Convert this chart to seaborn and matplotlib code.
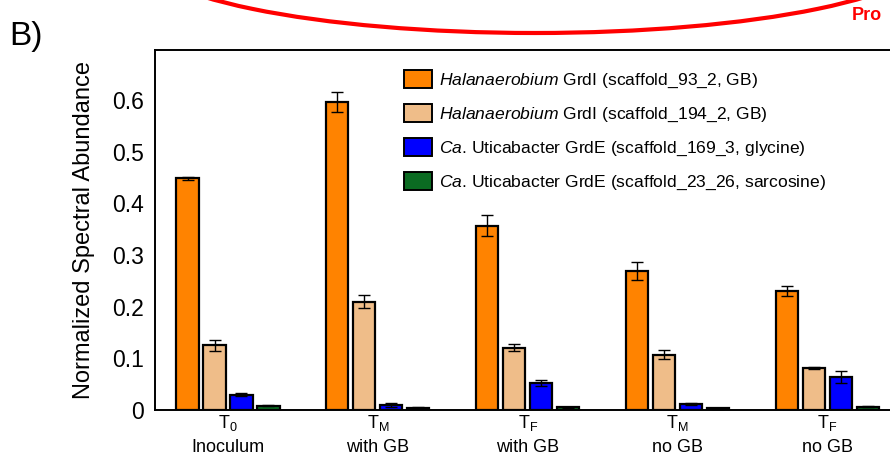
import numpy as np
import pandas as pd
import matplotlib
matplotlib.use("Agg")
import matplotlib.pyplot as plt
from matplotlib.patches import Ellipse, Patch
import seaborn as sns

# Sample conditions (x axis)
conditions = [r"$\mathregular{T_0}$" + "\nInoculum",
              r"$\mathregular{T_M}$" + "\nwith GB",
              r"$\mathregular{T_F}$" + "\nwith GB",
              r"$\mathregular{T_M}$" + "\nno GB",
              r"$\mathregular{T_F}$" + "\nno GB"]

# Proteins (hue)
proteins = [r"$\it{Halanaerobium}$ GrdI (scaffold_93_2, GB)",
            r"$\it{Halanaerobium}$ GrdI (scaffold_194_2, GB)",
            r"$\it{Ca}$. Uticabacter GrdE (scaffold_169_3, glycine)",
            r"$\it{Ca}$. Uticabacter GrdE (scaffold_23_26, sarcosine)"]

# Normalized spectral abundance per protein, one value per condition
grdI_93 = [0.449, 0.596, 0.357, 0.269, 0.230]
grdI_194 = [0.125, 0.210, 0.121, 0.107, 0.081]
grdE_169 = [0.030, 0.010, 0.053, 0.012, 0.064]
grdE_23 = [0.008, 0.004, 0.005, 0.003, 0.006]

# Error (standard error) for each bar
err_93 = [0.003, 0.020, 0.020, 0.017, 0.010]
err_194 = [0.010, 0.012, 0.006, 0.009, 0.002]
err_169 = [0.003, 0.004, 0.006, 0.002, 0.012]
err_23 = [0.001, 0.001, 0.001, 0.001, 0.001]

y_ticks = [0, 0.1, 0.2, 0.3, 0.4, 0.5, 0.6]
y_tick_labels = ["0", "0.1", "0.2", "0.3", "0.4", "0.5", "0.6"]

colors = ["#FF8300", "#EFBD89", "#0000FF", "#0B6B22"]

values = [grdI_93, grdI_194, grdE_169, grdE_23]
errors = [err_93, err_194, err_169, err_23]

df = pd.DataFrame({
    "condition": [c for _ in proteins for c in conditions],
    "protein": [p for p in proteins for _ in conditions],
    "value": [v for vals in values for v in vals],
    "err": [e for errs in errors for e in errs],
})

sns.set_style("white")
plt.rcParams["font.family"] = ["Liberation Sans", "DejaVu Sans"]
plt.rcParams["mathtext.fontset"] = "custom"
plt.rcParams["mathtext.rm"] = "Liberation Sans"
plt.rcParams["mathtext.it"] = "Liberation Sans:italic"
plt.rcParams["text.color"] = "black"
plt.rcParams["axes.labelcolor"] = "black"
plt.rcParams["xtick.color"] = "black"
plt.rcParams["ytick.color"] = "black"

fig = plt.figure(figsize=(8.9, 4.58), dpi=100)
ax = fig.add_axes([155 / 890, 48 / 458, 746 / 890, 360 / 458])

sns.barplot(data=df, x="condition", y="value", hue="protein",
            order=conditions, hue_order=proteins, palette=colors,
            saturation=1, width=0.72, gap=0.18, edgecolor="black",
            linewidth=1.6, errorbar=None, legend=False, ax=ax)

# Error bars at the centre of each bar
for patch, (_, row) in zip(ax.patches, df.iterrows()):
    cx = patch.get_x() + patch.get_width() / 2
    ax.errorbar(cx, row["value"], yerr=row["err"], fmt="none",
                ecolor="black", elinewidth=1.0, capsize=4, capthick=1.0,
                zorder=5)

ax.set_xlim(-0.487, 4.49)
ax.set_ylim(0, 0.697)
ax.set_yticks(y_ticks)
ax.set_yticklabels(y_tick_labels, fontsize=16.5)
ax.tick_params(axis="both", length=0, pad=8)
ax.tick_params(axis="x", labelsize=13, pad=2)
for lab in ax.get_xticklabels():
    lab.set_linespacing(1.5)
ax.set_xlabel("")
ax.set_ylabel("Normalized Spectral Abundance", fontsize=17, labelpad=12)

for side in ["left", "top", "bottom"]:
    ax.spines[side].set_color("black")
    ax.spines[side].set_linewidth(1.4)
ax.spines["right"].set_visible(False)

handles = [Patch(facecolor=c, edgecolor="black", linewidth=1.4) for c in colors]
ax.legend(handles, proteins, loc="upper left", bbox_to_anchor=(0.325, 0.965),
          frameon=False, fontsize=12.6, handlelength=1.55, handleheight=1.2,
          handletextpad=0.45, labelspacing=0.8, borderaxespad=0)

# Panel letter and neighbouring panel annotation
fig.text(9 / 890, 1 - 45 / 458, "B)", fontsize=24, ha="left", va="baseline")
fig.add_artist(Ellipse((535 / 890, 1 + 49.5 / 458), 800 / 890, 165 / 458,
                       transform=fig.transFigure, fill=False,
                       edgecolor="#FF0000", linewidth=3))
fig.text(852 / 890, 1 - 20 / 458, "Pro", fontsize=13, color="#FF0000",
         fontweight="bold", ha="left", va="baseline")

fig.savefig("out.png", dpi=100)
